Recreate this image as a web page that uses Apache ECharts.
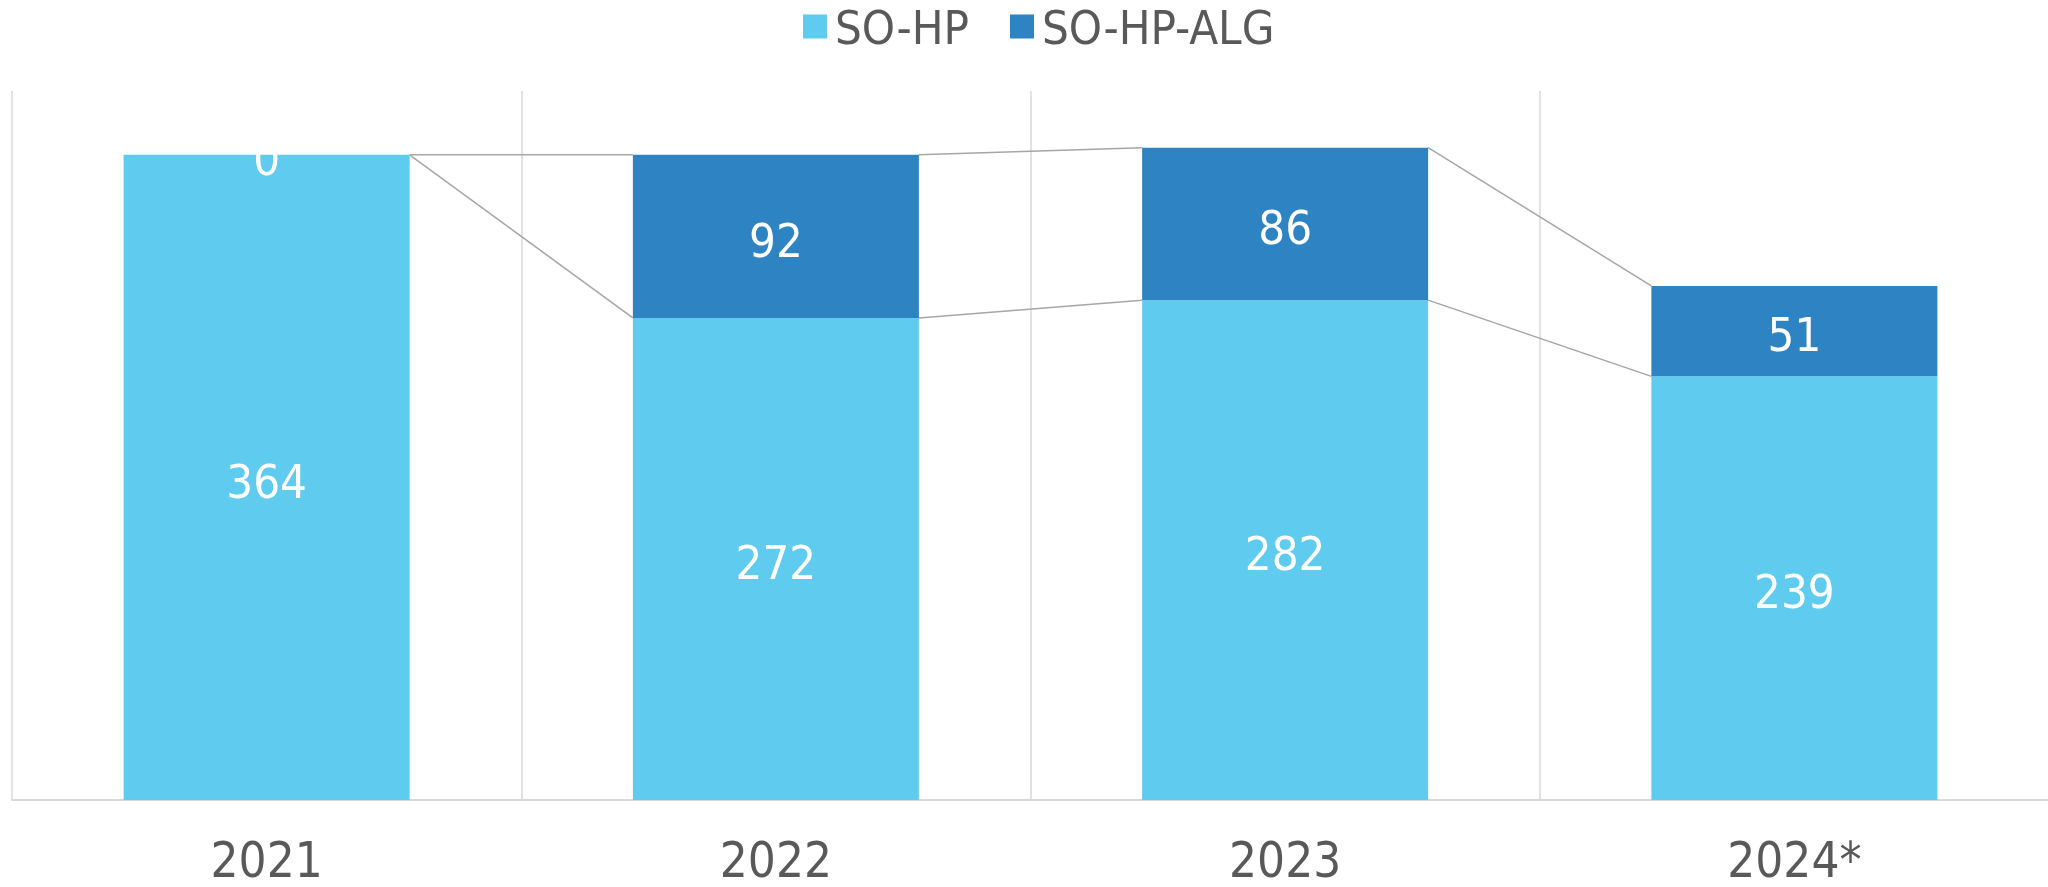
<!DOCTYPE html>
<html>
<head>
<meta charset="utf-8">
<title>SO-HP</title>
<script src="https://cdn.jsdelivr.net/npm/echarts@6/dist/echarts.min.js"></script>
<style>
  html, body { margin: 0; padding: 0; background: #fff; }
  #chart { width: 2048px; height: 887px; }
</style>
</head>
<body>
<div id="chart"></div>
<script>
const categories = ['2021', '2022', '2023', '2024*']
const soHp = [364, 272, 282, 239]
const soHpAlg = [0, 92, 86, 51]

const FONT = "'DejaVu Sans Condensed', 'Liberation Sans', sans-serif"
const BAR_WIDTH = 286

// connector lines between neighbouring bars: [index, value here, value at next]
const connectors = []
for (let i = 0; i < categories.length - 1; i++) {
  connectors.push([i, soHp[i], soHp[i + 1]])
  connectors.push([i, soHp[i] + soHpAlg[i], soHp[i + 1] + soHpAlg[i + 1]])
}

const barLabel = {
  show: true,
  position: 'inside',
  offset: [0, 8],
  color: '#fff',
  fontFamily: FONT,
  fontSize: 47
}

// square sitting in the upper part of a taller box, so it lines up with the text
const legendIcon = 'path://M0,0H24V24H0Z M12,34L12.01,34L12,34.01Z'

const chart = echarts.init(document.getElementById('chart'))

chart.setOption({
  animation: false,
  legend: {
    left: 798,
    top: 3,
    itemWidth: 24,
    itemHeight: 34,
    itemGap: 41,
    icon: legendIcon,
    textStyle: {
      fontFamily: FONT,
      fontSize: 47,
      color: '#595959',
      padding: [0, 0, 0, 3]
    },
    data: ['SO-HP', 'SO-HP-ALG']
  },
  grid: {
    left: 12,
    right: -1,
    top: 91,
    bottom: 87,
    containLabel: false,
    outerBoundsMode: 'none'
  },
  xAxis: {
    type: 'category',
    data: categories,
    axisTick: { show: false },
    axisLine: { lineStyle: { color: '#d9d9d9', width: 2 } },
    splitLine: { show: true, interval: 0, lineStyle: { color: '#d9d9d9', width: 1.5 } },
    axisLabel: {
      fontFamily: FONT,
      fontSize: 49,
      color: '#595959',
      margin: 40
    }
  },
  yAxis: {
    type: 'value',
    min: 0,
    max: 400,
    show: false,
    splitLine: { show: false }
  },
  series: [
    {
      name: 'SO-HP',
      type: 'bar',
      stack: 'total',
      barWidth: BAR_WIDTH,
      data: soHp,
      itemStyle: { color: '#5fcbee' },
      label: barLabel
    },
    {
      name: 'SO-HP-ALG',
      type: 'bar',
      stack: 'total',
      barWidth: BAR_WIDTH,
      data: soHpAlg,
      itemStyle: { color: '#2e83c3' },
      label: barLabel
    },
    {
      type: 'custom',
      silent: true,
      z: 1,
      data: connectors,
      renderItem: function (params, api) {
        const i = api.value(0)
        const p1 = api.coord([i, api.value(1)])
        const p2 = api.coord([i + 1, api.value(2)])
        const half = BAR_WIDTH / 2
        return {
          type: 'line',
          shape: { x1: p1[0] + half, y1: p1[1], x2: p2[0] - half, y2: p2[1] },
          style: { stroke: '#a6a6a6', lineWidth: 1.5 }
        }
      }
    }
  ]
})
</script>
</body>
</html>
